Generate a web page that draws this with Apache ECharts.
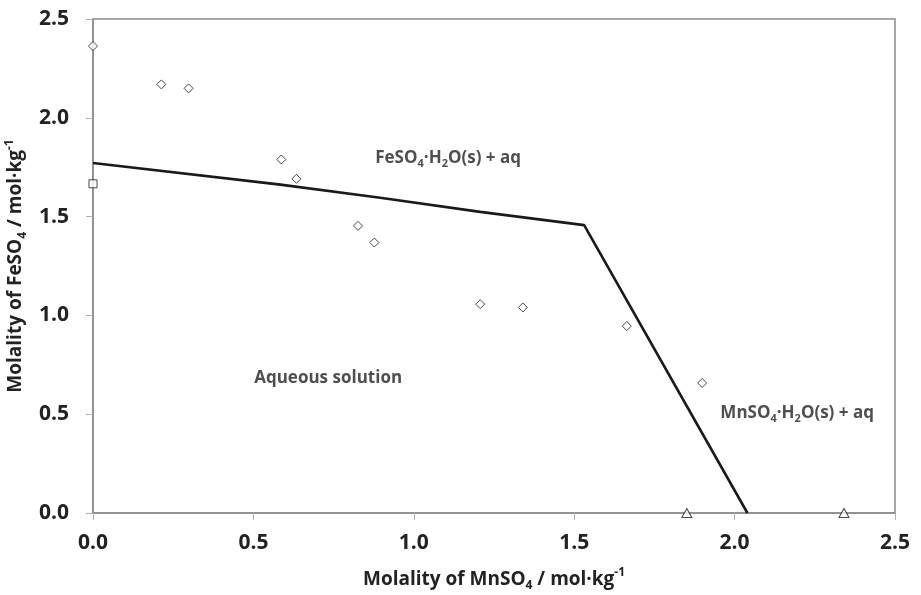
<!DOCTYPE html>
<html>
<head>
<meta charset="utf-8">
<script src="https://cdn.jsdelivr.net/npm/echarts@6/dist/echarts.min.js"></script>
<style>
html,body{margin:0;padding:0;background:#fff;}
#chart{width:921px;height:595px;}
</style>
</head>
<body>
<div id="chart"></div>
<script>
// Experimental solubility points (diamonds)
const diamondX = [0.000, 0.213, 0.298, 0.587, 0.634, 0.826, 0.877, 1.207, 1.340, 1.664, 1.899];
const diamondY = [2.363, 2.169, 2.149, 1.789, 1.691, 1.453, 1.369, 1.057, 1.040, 0.946, 0.658];
// Binary FeSO4 point (square)
const squareX = [0.000];
const squareY = [1.666];
// Binary MnSO4 points (triangles)
const triangleX = [1.851, 2.341];
const triangleY = [0.000, 0.000];
// Model solubility curve
const curveX = [0.000, 0.584, 0.895, 1.207, 1.531, 2.040];
const curveY = [1.771, 1.662, 1.595, 1.524, 1.457, 0.000];
// Region labels (data coordinates of label centres)
const regionLabels = [
  {x: 1.107, y: 1.796, text: 'FeSO{sub|4}·H{sub|2}O(s) + aq'},
  {x: 0.733, y: 0.682, text: 'Aqueous solution'},
  {x: 2.195, y: 0.505, text: 'MnSO{sub|4}·H{sub|2}O(s) + aq'}
];
// Axis ticks
const axisMin = 0, axisMax = 2.5, axisStep = 0.5;

const FONT = 'Open Sans';
const W = 'bold';
const TXT = '#222222';
const AX = '#8c8c8c';

const zip = (xs, ys) => xs.map((x, i) => [x, ys[i]]);

const richText = (size) => ({
  sub: {fontFamily: FONT, fontWeight: W, fontSize: Math.round(size * 0.62), color: TXT, verticalAlign: 'bottom', lineHeight: 12},
  sup: {fontFamily: FONT, fontWeight: W, fontSize: Math.round(size * 0.62), color: TXT, verticalAlign: 'top', lineHeight: 14}
});

const chart = echarts.init(document.getElementById('chart'), null, {renderer: 'canvas'});
chart.setOption({
  animation: false,
  backgroundColor: '#ffffff',
  grid: {left: 93, right: 26, top: 19, bottom: 82, containLabel: false, outerBoundsMode: 'none', show: true, borderColor: AX, borderWidth: 1.5, backgroundColor: 'transparent'},
  xAxis: {
    type: 'value', min: axisMin, max: axisMax, interval: axisStep,
    name: 'Molality of MnSO{sub|4} / mol·kg{sup|-1}',
    nameLocation: 'middle', nameGap: 54,
    nameTextStyle: {fontFamily: FONT, fontWeight: W, fontSize: 19, color: TXT, lineHeight: 25, rich: richText(19)},
    axisLine: {show: true, lineStyle: {color: AX, width: 1.5}},
    axisTick: {show: true, length: 7, lineStyle: {color: '#b0b0b0', width: 1}},
    splitLine: {show: false},
    axisLabel: {margin: 20, fontFamily: FONT, fontWeight: W, fontSize: 21, color: TXT, formatter: v => v.toFixed(1)}
  },
  yAxis: {
    type: 'value', min: axisMin, max: axisMax, interval: axisStep,
    name: 'Molality of FeSO{sub|4} / mol·kg{sup|-1}',
    nameLocation: 'middle', nameGap: 59, nameRotate: 90,
    nameTextStyle: {fontFamily: FONT, fontWeight: W, fontSize: 19, color: TXT, lineHeight: 25, rich: richText(19)},
    axisLine: {show: true, lineStyle: {color: AX, width: 1.5}},
    axisTick: {show: true, length: 7, lineStyle: {color: '#b0b0b0', width: 1}},
    splitLine: {show: false},
    axisLabel: {margin: 24, fontFamily: FONT, fontWeight: W, fontSize: 21, color: TXT, formatter: v => v.toFixed(1)}
  },
  series: [
    {
      type: 'line', data: zip(curveX, curveY), showSymbol: false, symbol: 'none',
      lineStyle: {color: '#1a1a1a', width: 2.6}, silent: true, z: 3
    },
    {
      type: 'scatter', data: zip(diamondX, diamondY), symbol: 'diamond', symbolSize: 9, clip: false,
      itemStyle: {color: '#ffffff', borderColor: '#1a1a1a', borderWidth: 1}, silent: true, z: 4
    },
    {
      type: 'scatter', data: zip(squareX, squareY), symbol: 'rect', symbolSize: 8, clip: false,
      itemStyle: {color: '#ffffff', borderColor: '#1a1a1a', borderWidth: 1}, silent: true, z: 4
    },
    {
      type: 'scatter', data: zip(triangleX, triangleY), symbol: 'triangle', symbolSize: [10, 9], clip: false,
      itemStyle: {color: '#ffffff', borderColor: '#1a1a1a', borderWidth: 1}, silent: true, z: 4
    },
    {
      type: 'scatter', symbolSize: 0, silent: true, clip: false, z: 5,
      data: regionLabels.map(r => ({value: [r.x, r.y], label: {formatter: r.text}})),
      label: {show: true, position: 'inside', fontFamily: FONT, fontWeight: W, fontSize: 17, color: TXT, lineHeight: 22, rich: richText(17)}
    }
  ]
});
</script>
</body>
</html>
